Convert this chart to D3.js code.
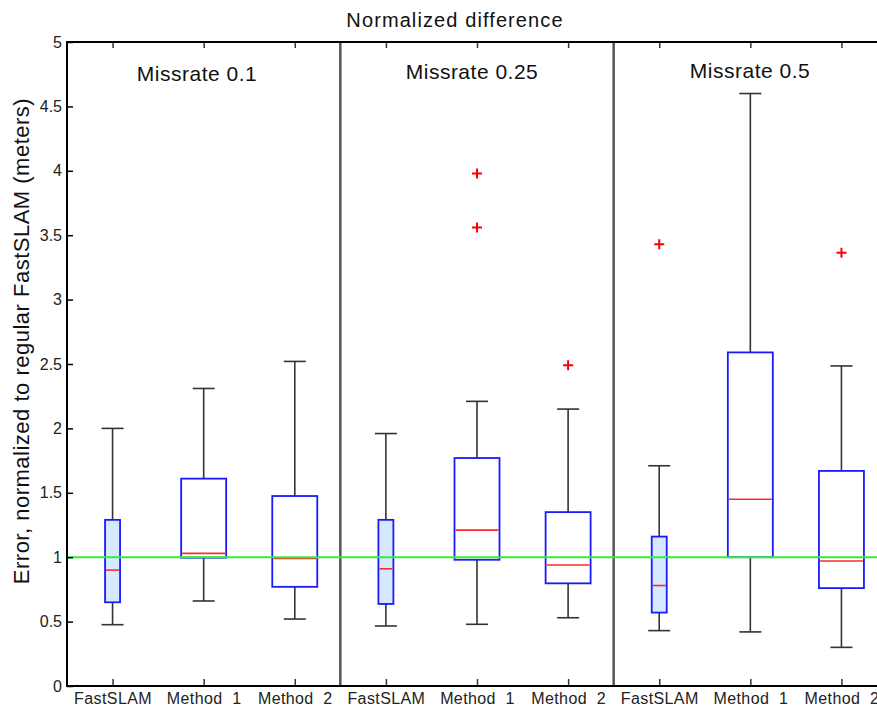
<!DOCTYPE html>
<html><head><meta charset="utf-8">
<script src="https://cdn.jsdelivr.net/npm/d3@7"></script>
<style>body{margin:0;background:#fff}svg{display:block}text{font-family:"Liberation Sans",Arial,sans-serif;white-space:pre}</style>
</head><body><svg id="c" width="877" height="706"></svg>
<script>
const categories = ["FastSLAM","Method  1","Method  2","FastSLAM","Method  1","Method  2","FastSLAM","Method  1","Method  2"];
const groupLabels = ["Missrate 0.1","Missrate 0.25","Missrate 0.5"];
const whiskerLow  = [0.476,0.66,0.52, 0.466,0.479,0.53, 0.43,0.42,0.30];
const q1          = [0.65,0.996,0.77, 0.637,0.98,0.797, 0.57,1.0,0.76];
const median      = [0.90,1.03,0.99, 0.91,1.21,0.94, 0.78,1.45,0.97];
const q3          = [1.29,1.61,1.475, 1.29,1.77,1.35, 1.16,2.59,1.67];
const whiskerHigh = [2.0,2.31,2.52, 1.96,2.21,2.15, 1.71,4.60,2.485];
const outliers    = [[],[],[], [],[3.98,3.56],[2.49], [3.43],[],[3.364]];
const yTicks = [0,0.5,1,1.5,2,2.5,3,3.5,4,4.5,5];
const refLine = 1;

const svg = d3.select("#c");
const x = d3.scaleLinear().domain([0.5,9.5]).range([67,887]);
const y = d3.scaleLinear().domain([0,5]).range([686,42]);
const idx = d3.range(1,10);

// separators
[3.5,6.5].forEach(s=>svg.append("line").attr("x1",x(s)).attr("x2",x(s)).attr("y1",y(5)).attr("y2",y(0))
  .attr("stroke","#555").attr("stroke-width",2.5));

const g = svg.append("g");
idx.forEach((p,i)=>{
  const cx = x(p);
  const narrow = (i%3===0);
  const bw = narrow ? 15 : 45;
  const cw = 22;
  g.append("line").attr("x1",cx).attr("x2",cx).attr("y1",y(q3[i])).attr("y2",y(whiskerHigh[i])).attr("stroke","#333").attr("stroke-width",1.6);
  g.append("line").attr("x1",cx).attr("x2",cx).attr("y1",y(q1[i])).attr("y2",y(whiskerLow[i])).attr("stroke","#333").attr("stroke-width",1.6);
  g.append("line").attr("x1",cx-cw/2).attr("x2",cx+cw/2).attr("y1",y(whiskerHigh[i])).attr("y2",y(whiskerHigh[i])).attr("stroke","#333").attr("stroke-width",1.6);
  g.append("line").attr("x1",cx-cw/2).attr("x2",cx+cw/2).attr("y1",y(whiskerLow[i])).attr("y2",y(whiskerLow[i])).attr("stroke","#333").attr("stroke-width",1.6);
  g.append("rect").attr("x",cx-bw/2).attr("width",bw).attr("y",y(q3[i])).attr("height",y(q1[i])-y(q3[i]))
    .attr("fill",narrow?"#d6e9ff":"none").attr("stroke","#1a1aff").attr("stroke-width",1.8);
  g.append("line").attr("x1",cx-bw/2+1).attr("x2",cx+bw/2-1).attr("y1",y(median[i])).attr("y2",y(median[i])).attr("stroke","#ff2a2a").attr("stroke-width",1.6);
  outliers[i].forEach(o=>{
    g.append("path").attr("d",`M${cx-5},${y(o)}H${cx+5}M${cx},${y(o)-5}V${y(o)+5}`).attr("stroke","#ff0000").attr("stroke-width",2);
  });
});

// reference line
svg.append("line").attr("x1",67).attr("x2",887).attr("y1",y(refLine)).attr("y2",y(refLine))
  .attr("stroke","#33ee33").attr("stroke-width",2);

// axes
const yAxis = d3.axisLeft(y).tickValues(yTicks).tickSize(-6).tickPadding(5).tickFormat(d=>d3.format("")(d));
const ya = svg.append("g").attr("transform","translate(67,0)").call(yAxis);
ya.select(".domain").remove();
ya.selectAll("line").attr("stroke","#000").attr("stroke-width",1.5);
ya.selectAll("text").attr("font-size",16).attr("fill","#222").attr("font-family","Liberation Sans, Arial, sans-serif");

const xAxis = d3.axisBottom(x).tickValues(idx).tickSize(-7).tickPadding(7).tickFormat((d,i)=>categories[i]);
const xa = svg.append("g").attr("transform","translate(0,686)").call(xAxis);
xa.select(".domain").remove();
xa.selectAll("line").attr("stroke","#333").attr("stroke-width",1.5);
xa.selectAll("text").attr("font-size",16).attr("letter-spacing",0.4).attr("fill","#222").attr("font-family","Liberation Sans, Arial, sans-serif");

const xTop = d3.axisTop(x).tickValues(idx).tickSize(-6).tickFormat("");
const xt = svg.append("g").attr("transform","translate(0,42)").call(xTop);
xt.select(".domain").remove();
xt.selectAll("line").attr("stroke","#333").attr("stroke-width",1.5);

// frame lines
svg.append("line").attr("x1",67).attr("x2",67).attr("y1",41).attr("y2",687).attr("stroke","#000").attr("stroke-width",2);
svg.append("line").attr("x1",66).attr("x2",887).attr("y1",686).attr("y2",686).attr("stroke","#000").attr("stroke-width",2);
svg.append("line").attr("x1",66).attr("x2",887).attr("y1",42).attr("y2",42).attr("stroke","#000").attr("stroke-width",2);

// group labels
const labelX = [197,472,750];
const labelY = [81,79,78];
groupLabels.forEach((t,i)=>svg.append("text").attr("x",labelX[i]).attr("y",labelY[i]).attr("text-anchor","middle")
  .attr("font-size",21).attr("letter-spacing",0.5).attr("fill","#111").text(t));

// title
svg.append("text").attr("x",455).attr("y",27).attr("text-anchor","middle").attr("font-size",20).attr("letter-spacing",1.1).attr("fill","#111").text("Normalized difference");
// y label
svg.append("text").attr("transform","translate(29,341) rotate(-90)").attr("text-anchor","middle").attr("font-size",22).attr("letter-spacing",0.5).attr("fill","#111")
  .text("Error, normalized to regular FastSLAM (meters)");
</script></body></html>
